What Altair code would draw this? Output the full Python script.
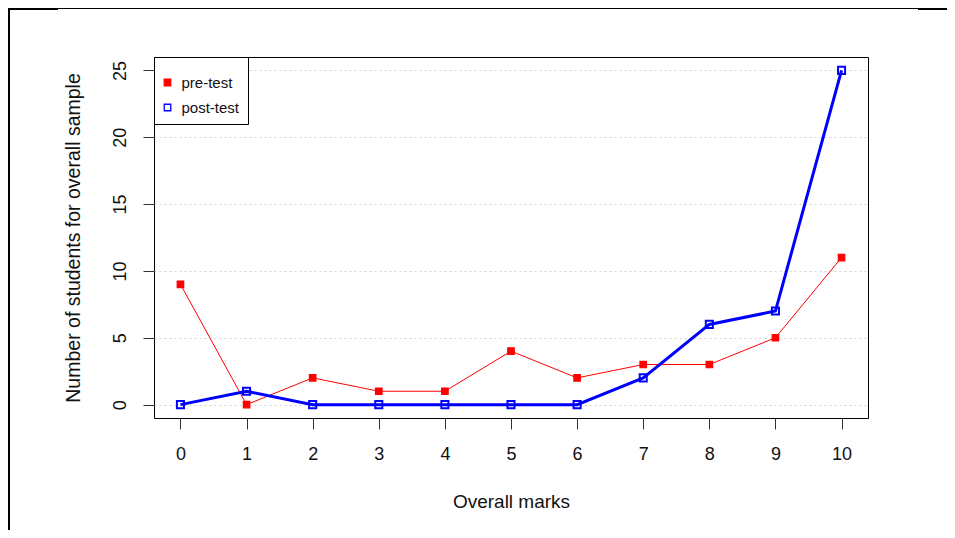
import altair as alt
import pandas as pd

marks = [0, 1, 2, 3, 4, 5, 6, 7, 8, 9, 10]
pre_test = [9, 0, 2, 1, 1, 4, 2, 3, 3, 5, 11]
post_test = [0, 1, 0, 0, 0, 0, 0, 2, 6, 7, 25]
series = ["pre-test", "post-test"]
x_ticks = [0, 1, 2, 3, 4, 5, 6, 7, 8, 9, 10]
y_ticks = [0, 5, 10, 15, 20, 25]

df = pd.concat([
    pd.DataFrame({"mark": marks, "count": pre_test, "series": "pre-test"}),
    pd.DataFrame({"mark": marks, "count": post_test, "series": "post-test"}),
], ignore_index=True)

FONT = "Liberation Sans"
W, H = 714, 361
PL, PT = 146, 49
TOTAL_W, TOTAL_H = 939, 522

xs = alt.Scale(domain=[-0.4, 10.4], nice=False, zero=False)
ys = alt.Scale(domain=[-1, 26], nice=False, zero=False)

xaxis = alt.Axis(values=x_ticks, title="Overall marks", grid=False, domain=False,
                 tickSize=11, tickColor="#333", labelFontSize=18, labelFont=FONT,
                 labelColor="#111", labelPadding=25, labelBaseline="middle",
                 titleFontSize=19, titleFont=FONT, titleFontWeight="normal",
                 titleColor="#111", titleBaseline="middle", titleY=83)
yaxis = alt.Axis(values=y_ticks, title="Number of students for overall sample",
                 grid=True, gridColor="#d3d3d3", gridDash=[2, 3], gridWidth=1,
                 domain=False, tickSize=11, tickColor="#333",
                 labelFontSize=18, labelFont=FONT, labelColor="#111",
                 labelAngle=270, labelAlign="center", labelBaseline="middle",
                 labelPadding=23, titleFontSize=19.5, titleFont=FONT,
                 titleFontWeight="normal", titleColor="#111", titleAngle=270,
                 titleAlign="center", titleBaseline="middle", titleX=-81, titleY=180.5)

legend = alt.Legend(title=" ", titleFontSize=6, titlePadding=4,
                    orient="none", legendX=0, legendY=0,
                    symbolType="square", symbolSize=42, symbolStrokeWidth=1.3,
                    symbolOffset=-2,
                    labelFontSize=15, labelFont=FONT, labelColor="#111",
                    labelOffset=6.5, rowPadding=9, padding=8,
                    strokeColor="black", fillColor="white")

stroke_scale = alt.Scale(domain=series, range=["#ff0000", "#0000ff"])
fill_scale = alt.Scale(domain=series, range=["#ff0000", "transparent"])


def layers_for(name, line_width, pt_size, pt_stroke):
    base = alt.Chart(df).transform_filter(alt.datum.series == name)
    line = base.mark_line(strokeWidth=line_width).encode(
        x=alt.X("mark:Q", scale=xs, axis=xaxis),
        y=alt.Y("count:Q", scale=ys, axis=yaxis),
        stroke=alt.Stroke("series:N", scale=stroke_scale, legend=legend),
    )
    pts = base.mark_point(shape="square", size=pt_size, strokeWidth=pt_stroke,
                          opacity=1).encode(
        x=alt.X("mark:Q", scale=xs, axis=xaxis),
        y=alt.Y("count:Q", scale=ys, axis=yaxis),
        stroke=alt.Stroke("series:N", scale=stroke_scale, legend=legend),
        fill=alt.Fill("series:N", scale=fill_scale, legend=legend),
    )
    return [line, pts]


frame_data = alt.Data(values=[{"k": 0}])
border_top = alt.Chart(frame_data).mark_rule(color="black", strokeWidth=1).encode(
    x=alt.value(-PL), x2=alt.value(764), y=alt.value(-PT + 0.5))
border_top_l = alt.Chart(frame_data).mark_rule(color="black", strokeWidth=2).encode(
    x=alt.value(-PL), x2=alt.value(-PL + 50), y=alt.value(-PT + 1))
border_top_r = alt.Chart(frame_data).mark_rule(color="black", strokeWidth=2).encode(
    x=alt.value(764), x2=alt.value(TOTAL_W - PL), y=alt.value(-PT + 1))
border_left = alt.Chart(frame_data).mark_rule(color="black", strokeWidth=2).encode(
    x=alt.value(-PL + 1), y=alt.value(-PT), y2=alt.value(TOTAL_H - PT))

chart = alt.layer(
    *layers_for("pre-test", 1, 42, 1.2), *layers_for("post-test", 3, 50, 2),
    border_top, border_top_l, border_top_r, border_left,
).properties(
    width=W, height=H,
    background="white",
    autosize=alt.AutoSizeParams(type="none"),
    padding={"left": PL, "top": PT, "right": TOTAL_W - PL - W, "bottom": TOTAL_H - PT - H},
).configure_view(stroke="black", strokeWidth=1)

chart.save("out.html", embed_options={"renderer": "svg", "actions": False})
